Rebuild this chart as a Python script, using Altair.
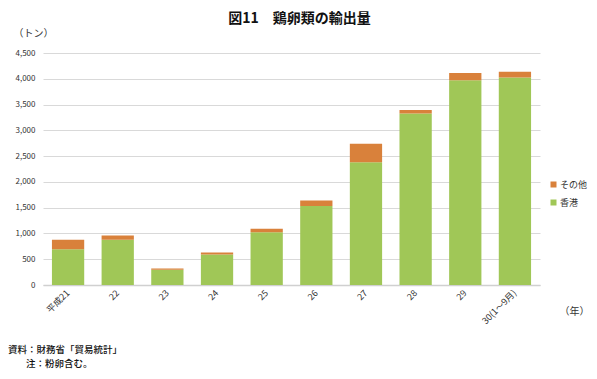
import altair as alt
import pandas as pd

categories = ["平成21", "22", "23", "24", "25", "26", "27", "28", "29", "30(1～9月)"]
hongkong = [695, 880, 295, 590, 1025, 1530, 2380, 3325, 3970, 4025]
others = [183, 80, 25, 40, 65, 110, 360, 70, 140, 110]
series = ["その他", "香港"]
colors = ["#d9813b", "#a0c757"]
note1 = "資料：財務省「貿易統計」"
note2 = "注：粉卵含む。"

rows = []
for c, h, o in zip(categories, hongkong, others):
    rows.append({"cat": c, "series": "香港", "value": h, "order": 0})
    rows.append({"cat": c, "series": "その他", "value": o, "order": 1})
df = pd.DataFrame(rows)

FONT = "Noto Sans CJK JP"

label_expr = ("datum.value >= 1000 ? (floor(datum.value / 1000) + ',' + "
              "(datum.value % 1000 == 0 ? '000' : '500')) : '' + datum.value")

bars = alt.Chart(df).mark_bar().encode(
    x=alt.X("cat:N", sort=categories,
            scale=alt.Scale(paddingInner=0.35, paddingOuter=0.18),
            axis=alt.Axis(title="（年）", titleX=516, titleY=26, titleAlign="left",
                          titleBaseline="middle",
                          titleFontWeight="normal", titleFontSize=10, titleColor="#333",
                          labelAngle=-45, labelAlign="right", labelBaseline="middle",
                          labelFontSize=9, labelColor="#333", labelPadding=6,
                          ticks=False, domainColor="#d0d0d0", domainWidth=1.5)),
    y=alt.Y("value:Q", stack="zero",
            scale=alt.Scale(domain=[0, 4500], nice=False),
            axis=alt.Axis(title="（トン）", titleAngle=0, titleX=-30, titleY=-20,
                          titleAlign="left", titleBaseline="middle",
                          titleFontWeight="normal", titleFontSize=10, titleColor="#333",
                          values=list(range(0, 4501, 500)), labelExpr=label_expr,
                          labelFontSize=8, labelColor="#333", labelPadding=8,
                          ticks=False, domain=False, gridColor="#d9d9d9")),
    color=alt.Color("series:N",
                    scale=alt.Scale(domain=series, range=colors),
                    legend=alt.Legend(title=None, orient="none", legendX=506, legendY=127,
                                      symbolType="square", symbolSize=36,
                                      labelFontSize=9, labelColor="#333",
                                      rowPadding=8, labelOffset=2)),
    order=alt.Order("order:Q", sort="ascending"),
)

notes1 = alt.Chart(pd.DataFrame({"t": [note1]})).mark_text(
    align="left", baseline="middle", fontSize=9.5, color="#111", font=FONT, fontWeight=500
).encode(x=alt.value(-35), y=alt.value(297), text="t")

notes2 = alt.Chart(pd.DataFrame({"t": [note2]})).mark_text(
    align="left", baseline="middle", fontSize=9.5, color="#111", font=FONT, fontWeight=500
).encode(x=alt.value(-17), y=alt.value(311), text="t")

chart = alt.layer(bars, notes1, notes2).properties(
    width=497, height=232,
    autosize=alt.AutoSizeParams(type="none"),
    padding={"left": 35, "top": 45, "right": 49, "bottom": 86},
    title=alt.Title("図11　鶏卵類の輸出量", fontSize=14, fontWeight="bold",
                    color="#111", anchor="middle", dx=8, offset=2, font=FONT),
).configure(font=FONT).configure_view(stroke=None)

chart.save("out.html", embed_options={"renderer": "svg", "actions": False})
